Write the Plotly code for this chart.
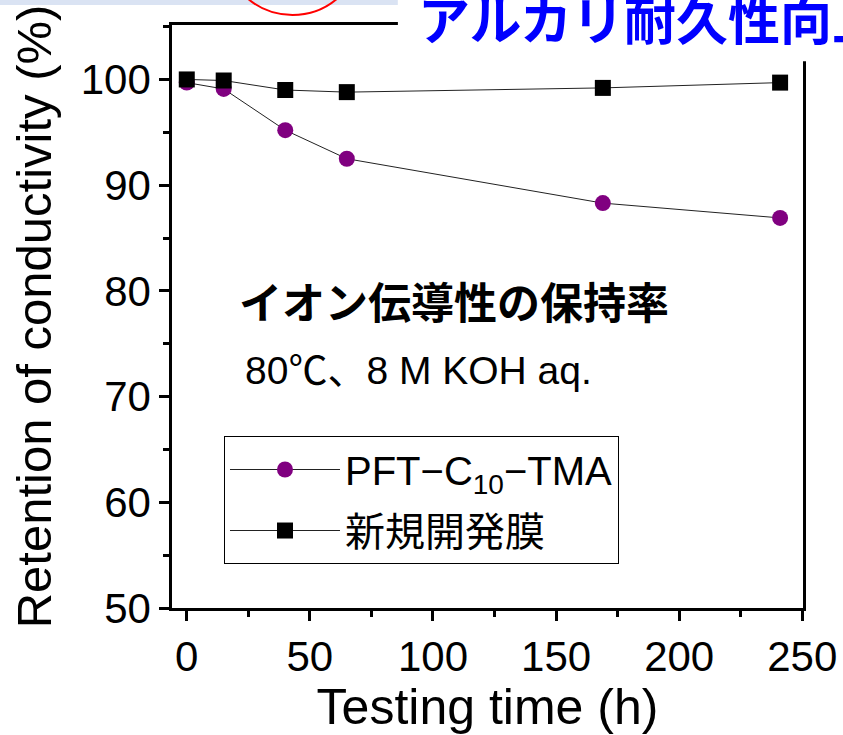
import plotly.graph_objects as go

# ---- data ----
time_h = [0, 15, 40, 65, 169, 241]
pft_c10_tma = [99.7, 99.1, 95.2, 92.5, 88.3, 86.9]
new_membrane = [100.0, 99.9, 99.0, 98.8, 99.2, 99.7]

series_names = ["PFT−C<sub>10</sub>−TMA", "新規開発膜"]
x_ticks = [0, 50, 100, 150, 200, 250]
y_ticks = [50, 60, 70, 80, 90, 100]

LAT = "Liberation Sans, Arial, sans-serif"
JP = "Noto Sans CJK JP, sans-serif"
MIX = "Liberation Sans, Arial, Noto Sans CJK JP, sans-serif"

fig = go.Figure()
fig.add_trace(go.Scatter(
    x=time_h, y=pft_c10_tma, name=series_names[0], mode="lines+markers",
    line=dict(color="#222222", width=1),
    marker=dict(symbol="circle", size=16, color="#800080"),
    legendgroup="a",
))
fig.add_trace(go.Scatter(
    x=time_h, y=new_membrane, name=series_names[1], mode="lines+markers",
    line=dict(color="#222222", width=1),
    marker=dict(symbol="square", size=16, color="#000000"),
    legendgroup="b",
))

axis_common = dict(
    showline=True, linecolor="black", linewidth=2.5, mirror=True,
    ticks="outside", ticklen=10, tickwidth=2.5, tickcolor="black",
    showgrid=False, zeroline=False,
    tickfont=dict(family=LAT, size=42, color="black"),
)

fig.update_xaxes(
    range=[-6, 250.3], tickvals=x_ticks,
    minor=dict(dtick=25, tick0=0, ticks="outside", ticklen=6, tickwidth=2.5, tickcolor="black"),
    title=dict(text="Testing time (h)", font=dict(family=LAT, size=50, color="black"), standoff=8),
    **axis_common,
)
fig.update_yaxes(
    range=[50, 105.15], tickvals=y_ticks,
    minor=dict(dtick=5, tick0=50, ticks="outside", ticklen=6, tickwidth=2.5, tickcolor="black"),
    title=dict(text="Retention of conductivity (%)", font=dict(family=LAT, size=49, color="black"), standoff=14),
    **axis_common,
)

fig.update_layout(
    width=843, height=735,
    margin=dict(l=172, r=40, t=25, b=127, autoexpand=False),
    paper_bgcolor="white", plot_bgcolor="white",
    showlegend=True,
    legend=dict(
        x=0.0824, y=0.295, xanchor="left", yanchor="top",
        bordercolor="black", borderwidth=1, bgcolor="white",
        font=dict(family=MIX, size=40, color="black"),
        itemwidth=110, tracegroupgap=6,
    ),
)

# decorative slide fragments at the top
fig.add_shape(type="rect", xref="paper", yref="paper",
              x0=-0.2726, x1=0.358, y0=1.0343, y1=1.2,
              fillcolor="#DAE3F3", line=dict(width=0), layer="above")
fig.add_shape(type="circle", xref="paper", yref="paper",
              x0=0.0808, x1=0.3011, y0=1.0172, y1=1.2573,
              line=dict(color="#FF0000", width=2), layer="above")
fig.add_shape(type="rect", xref="paper", yref="paper",
              x0=0.358, x1=1.2, y0=0.938, y1=1.2,
              fillcolor="white", line=dict(width=0), layer="above")

fig.add_annotation(
    x=0.386, y=1.0125, xref="paper", yref="paper", xanchor="left", yanchor="middle",
    text="<b>アルカリ耐久性向上</b>", showarrow=False,
    font=dict(family=JP, size=52, color="#0000FF"),
)
fig.add_annotation(
    x=0.447, y=0.528, xref="paper", yref="paper", xanchor="center", yanchor="middle",
    text="<b>イオン伝導性の保持率</b>", showarrow=False,
    font=dict(family=JP, size=43, color="black"),
)
fig.add_annotation(
    x=0.1125, y=0.408, xref="paper", yref="paper", xanchor="left", yanchor="middle",
    text="80℃、8 M KOH aq.", showarrow=False,
    font=dict(family=MIX, size=39, color="black"),
)

fig.write_html("out.html")
